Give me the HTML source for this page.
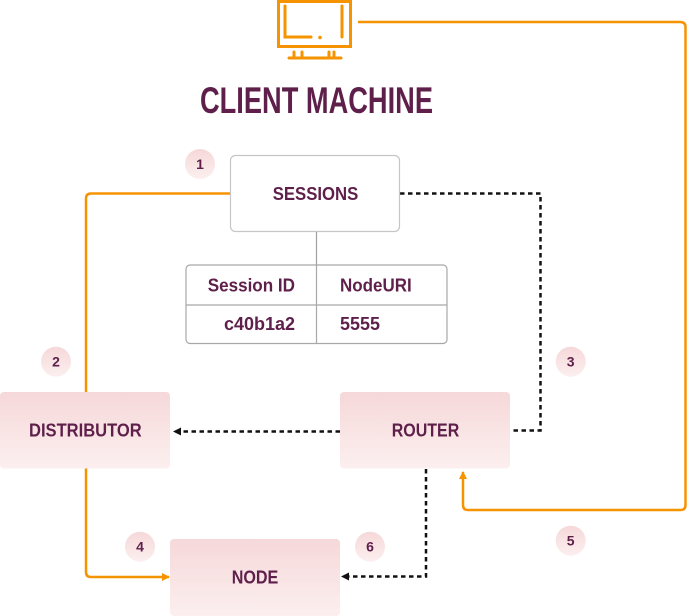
<!DOCTYPE html>
<html><head><meta charset="utf-8"><style>
html,body{margin:0;padding:0;background:#fff;}
svg{display:block;}
text{font-family:"Liberation Sans",sans-serif;font-weight:bold;fill:#5e1f4a;}
</style></head><body>
<svg width="687" height="616" viewBox="0 0 687 616" xmlns="http://www.w3.org/2000/svg">
<defs>
<linearGradient id="pk" x1="0" y1="0" x2="0" y2="1">
<stop offset="0" stop-color="#f6d8d9"/><stop offset="1" stop-color="#fcefef"/>
</linearGradient>
<marker id="ao" markerWidth="8" markerHeight="8" refX="7" refY="4" orient="auto" markerUnits="userSpaceOnUse">
<path d="M0,0 L8,4 L0,8 Z" fill="#f59300"/>
</marker>
<marker id="ab" markerWidth="8" markerHeight="8" refX="7" refY="4" orient="auto" markerUnits="userSpaceOnUse">
<path d="M0,0 L8,4 L0,8 Z" fill="#111"/>
</marker>
</defs>

<!-- monitor icon -->
<g stroke="#f59300" stroke-width="3" fill="none" stroke-linecap="round">
<rect x="278.5" y="1.5" width="72" height="45"/>
<path d="M285,6 V37 H311"/>
<path d="M342,6 V37"/>
<path d="M289,58 H341"/>
<path d="M294,52 V58 M302,52 V58 M329,52 V58 M334,52 V58"/>
</g>
<circle cx="320" cy="37.5" r="1.8" fill="#f59300"/>

<!-- title -->
<text x="200" y="113" font-size="37" textLength="233" lengthAdjust="spacingAndGlyphs">CLIENT MACHINE</text>

<!-- orange connectors -->
<path d="M358,22 H680 Q685.5,22 685.5,27 V505 Q685.5,510 680.5,510 H468 Q463,510 463,505 V472" stroke="#f59300" stroke-width="2.5" fill="none" marker-end="url(#ao)"/>
<path d="M230,193.5 H91 Q86,193.5 86,198.5 V392" stroke="#f59300" stroke-width="2.5" fill="none"/>
<path d="M86,468 V572 Q86,577 91,577 H169" stroke="#f59300" stroke-width="2.5" fill="none" marker-end="url(#ao)"/>

<!-- dashed connectors -->
<path d="M400,193.5 H540.5 V430.5 H510" stroke="#111" stroke-width="2.5" fill="none" stroke-dasharray="4.5,3.5"/>
<path d="M340,431.5 H174" stroke="#111" stroke-width="2.5" fill="none" stroke-dasharray="4.5,3.5" marker-end="url(#ab)"/>
<path d="M426,469 V576.5 H342" stroke="#111" stroke-width="2.5" fill="none" stroke-dasharray="4.5,3.5" marker-end="url(#ab)"/>

<!-- sessions box -->
<rect x="230.5" y="155.5" width="169" height="76" rx="5" fill="#fff" stroke="#c6c6c6" stroke-width="1.2"/>
<text x="272.7" y="200" font-size="18" textLength="85.6" lengthAdjust="spacingAndGlyphs">SESSIONS</text>
<line x1="316.5" y1="232" x2="316.5" y2="265" stroke="#a0a0a0" stroke-width="1.2"/>

<!-- table -->
<rect x="186" y="265" width="261" height="78.5" rx="4" fill="#fff" stroke="#a8a8a8" stroke-width="1.2"/>
<line x1="316.5" y1="265" x2="316.5" y2="343.5" stroke="#a8a8a8" stroke-width="1.2"/>
<line x1="186" y1="305" x2="447" y2="305" stroke="#a8a8a8" stroke-width="1.2"/>
<text x="207.7" y="291.7" font-size="18" textLength="87.3" lengthAdjust="spacingAndGlyphs">Session ID</text>
<text x="340" y="291.7" font-size="18" textLength="71.7" lengthAdjust="spacingAndGlyphs">NodeURI</text>
<text x="224" y="330" font-size="18" textLength="71" lengthAdjust="spacingAndGlyphs">c40b1a2</text>
<text x="340" y="330" font-size="18" textLength="40" lengthAdjust="spacingAndGlyphs">5555</text>

<!-- pink boxes -->
<rect x="0" y="392" width="170" height="76.5" rx="4" fill="url(#pk)"/>
<text x="29" y="436.7" font-size="18" textLength="112.7" lengthAdjust="spacingAndGlyphs">DISTRIBUTOR</text>
<rect x="340" y="392" width="170" height="76.5" rx="4" fill="url(#pk)"/>
<text x="391.7" y="436.7" font-size="18" textLength="67.6" lengthAdjust="spacingAndGlyphs">ROUTER</text>
<rect x="170" y="539" width="170" height="77" rx="4" fill="url(#pk)"/>
<text x="231.7" y="583.3" font-size="18" textLength="46.6" lengthAdjust="spacingAndGlyphs">NODE</text>

<!-- badges -->
<g>
<circle cx="200" cy="164" r="15" fill="url(#pk)"/>
<text x="200" y="169" font-size="14" text-anchor="middle">1</text>
<circle cx="56" cy="361.7" r="15" fill="url(#pk)"/>
<text x="56" y="366.7" font-size="14" text-anchor="middle">2</text>
<circle cx="570.7" cy="361.7" r="15" fill="url(#pk)"/>
<text x="570.7" y="366.7" font-size="14" text-anchor="middle">3</text>
<circle cx="140" cy="546.7" r="15" fill="url(#pk)"/>
<text x="140" y="551.7" font-size="14" text-anchor="middle">4</text>
<circle cx="570.7" cy="540.7" r="15" fill="url(#pk)"/>
<text x="570.7" y="545.7" font-size="14" text-anchor="middle">5</text>
<circle cx="370" cy="546.7" r="15" fill="url(#pk)"/>
<text x="370" y="551.7" font-size="14" text-anchor="middle">6</text>
</g>
</svg>
</body></html>
